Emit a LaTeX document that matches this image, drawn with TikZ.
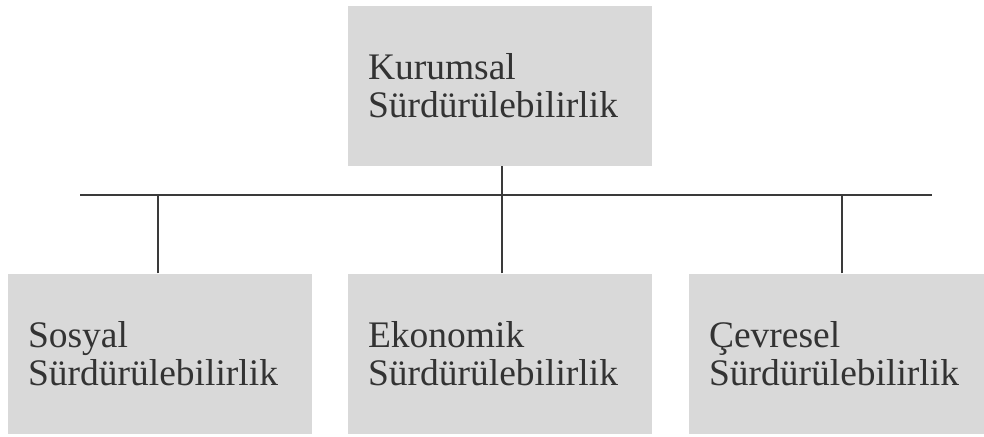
\documentclass[tikz,border=0pt]{standalone}
\usepackage{fontspec}
\setmainfont{Liberation Serif}
\definecolor{boxgrey}{HTML}{D9D9D9}
\definecolor{linegrey}{HTML}{3A3A3A}
\definecolor{textgrey}{HTML}{333333}
\begin{document}
\begin{tikzpicture}[x=1pt,y=-1pt,
  unit/.style={rectangle, fill=boxgrey, draw=none, minimum width=304pt, minimum height=160pt,
    text width=264pt, inner xsep=20pt, inner ysep=0pt, align=left, text=textgrey,
    font=\fontsize{37.5}{38}\selectfont},
  link/.style={draw=linegrey, line width=2pt}]
\useasboundingbox (0,0) rectangle (984,436);
\node[unit] (top) at (500,86) {Kurumsal\\Sürdürülebilirlik};
\node[unit] (sos) at (160,353.5) {Sosyal\\Sürdürülebilirlik};
\node[unit] (eko) at (500,353.5) {Ekonomik\\Sürdürülebilirlik};
\node[unit, minimum width=295pt, text width=255pt] (cev) at (836.5,353.5) {Çevresel\\Sürdürülebilirlik};
\coordinate (hl) at (80,195);
\coordinate (hr) at (932,195);
\draw[link] (hl) -- (hr);
\draw[link] ([xshift=2pt]top.south) -- ([xshift=2pt]top.south |- hl);
\draw[link] ([xshift=-2pt]sos.north) -- ([xshift=-2pt]sos.north |- hl);
\draw[link] ([xshift=2pt]eko.north) -- ([xshift=2pt]eko.north |- hl);
\draw[link] ([xshift=5.5pt]cev.north) -- ([xshift=5.5pt]cev.north |- hl);
\end{tikzpicture}
\end{document}
